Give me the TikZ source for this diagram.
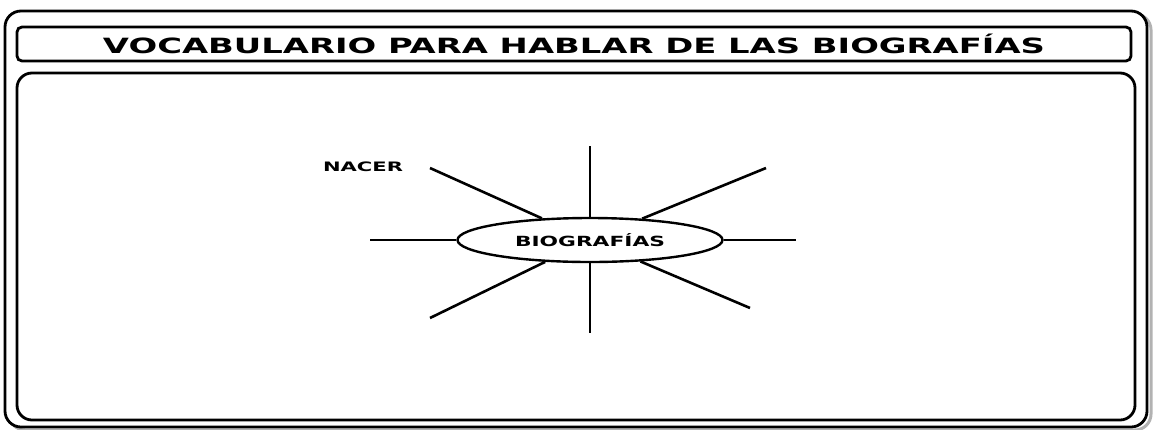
\documentclass[tikz,border=0pt]{standalone}
\usepackage{fontspec}
\setmainfont{DejaVu Sans}
\usepackage{graphicx}
\usetikzlibrary{shapes.geometric}

\newcommand{\stretchto}[2]{\resizebox{#1}{\height}{#2}}

\begin{document}
\begin{tikzpicture}[
  x=1pt, y=-1pt,
  frame/.style={draw, line width=2.8pt, rounded corners=15pt},
  hub/.style={ellipse, draw, line width=2.4pt, fill=white,
    minimum width=265pt, minimum height=44pt, inner sep=0pt},
  spoke/.style={line width=2.6pt},
  lbl/.style={inner sep=0pt}
]
\useasboundingbox (0,0) rectangle (1155,429);

% ── Frames ──
\draw[black!30, line width=3pt, rounded corners=16pt] (9,14) rectangle (1151,430);
\draw[frame, rounded corners=16pt, fill=white] (5,11) rectangle (1147,427);
\node[frame, rounded corners=5pt, minimum width=1114pt, minimum height=34pt,
  inner sep=0pt] (title) at (574,44)
  {\stretchto{942pt}{\fontsize{21}{21}\selectfont\bfseries VOCABULARIO PARA HABLAR DE LAS BIOGRAFÍAS}};
\draw[frame] (17,73) rectangle (1135,420);

% ── Nodes ──
\node[hub] (hub) at (590,240)
  {\stretchto{150pt}{\fontsize{14}{14}\selectfont\bfseries BIOGRAFÍAS}};
\node[lbl] (nacer) at (363,167)
  {\stretchto{80pt}{\fontsize{13}{13}\selectfont\bfseries NACER}};

% ── Spokes ──
\coordinate (nw) at (430,168);
\coordinate (n)  at (590,146);
\coordinate (ne) at (766,168);
\coordinate (w)  at (370,240);
\coordinate (e)  at (796,240);
\coordinate (sw) at (430,318);
\coordinate (s)  at (590,333);
\coordinate (se) at (750,308);
\foreach \c in {nw,n,ne,w,e,sw,s,se}
  \draw[spoke] (hub) -- (\c);

\end{tikzpicture}
\end{document}
